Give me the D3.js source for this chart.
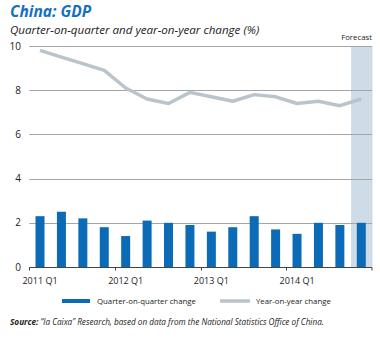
<!DOCTYPE html>
<html>
<head>
<meta charset="utf-8">
<script src="https://cdn.jsdelivr.net/npm/d3@7"></script>
<style>
  body { margin: 0; background: #fff; }
  text { font-family: "Open Sans", sans-serif; }
</style>
</head>
<body>
<svg id="chart" width="380" height="338"></svg>
<script>
/* DATA */
const quarters = ["2011 Q1", "2011 Q2", "2011 Q3", "2011 Q4",
                  "2012 Q1", "2012 Q2", "2012 Q3", "2012 Q4",
                  "2013 Q1", "2013 Q2", "2013 Q3", "2013 Q4",
                  "2014 Q1", "2014 Q2", "2014 Q3", "2014 Q4"];
const qoqChange = [2.3, 2.5, 2.2, 1.8, 1.4, 2.1, 2.0, 1.9, 1.6, 1.8, 2.3, 1.7, 1.5, 2.0, 1.9, 2.0];
const yoyChange = [9.8, 9.5, 9.2, 8.9, 8.1, 7.6, 7.4, 7.9, 7.7, 7.5, 7.8, 7.7, 7.4, 7.5, 7.3, 7.6];
const yTicks = [0, 2, 4, 6, 8, 10];
const xLabels = ["2011 Q1", "2012 Q1", "2013 Q1", "2014 Q1"];
const forecastQuarters = ["2014 Q4"];

const svg = d3.select("#chart");

const margin = { left: 29.3, right: 8, top: 46, bottom: 71 };
const width = 380, height = 338;

const x = d3.scaleBand()
  .domain(quarters)
  .range([margin.left, width - margin.right])
  .paddingInner(0.58)
  .paddingOuter(0.29);

const y = d3.scaleLinear()
  .domain([0, 10])
  .range([height - margin.bottom, margin.top]);

// step-based band edges (for shading & ticks)
const step = x.step();
const bandStart = d => x(d) + x.bandwidth() / 2 - step / 2;
const bandMid = d => x(d) + x.bandwidth() / 2;

// forecast shading
svg.selectAll("rect.forecast")
  .data(forecastQuarters)
  .join("rect")
  .attr("class", "forecast")
  .attr("x", d => bandStart(d) + 0.5)
  .attr("width", step)
  .attr("y", y(10))
  .attr("height", y(0) - y(10))
  .attr("fill", "#cddce7");

svg.append("text")
  .attr("x", width - margin.right)
  .attr("y", 40)
  .attr("text-anchor", "end")
  .attr("font-size", 7.8)
  .attr("fill", "#222")
  .text("Forecast");

// gridlines
svg.append("g")
  .selectAll("line")
  .data(yTicks.filter(d => d > 0))
  .join("line")
  .attr("x1", margin.left)
  .attr("x2", width - margin.right)
  .attr("y1", d => Math.round(y(d)) + 0.5)
  .attr("y2", d => Math.round(y(d)) + 0.5)
  .attr("stroke", "#a6a6a6")
  .attr("stroke-width", 1);

// y labels
svg.append("g")
  .selectAll("text")
  .data(yTicks)
  .join("text")
  .attr("x", 21)
  .attr("y", d => y(d))
  .attr("dy", "0.35em")
  .attr("text-anchor", "end")
  .attr("font-size", 10)
  .attr("fill", "#222")
  .text(d => d);

// bars
svg.append("g")
  .selectAll("rect")
  .data(quarters)
  .join("rect")
  .attr("x", d => x(d))
  .attr("width", x.bandwidth())
  .attr("y", (d, i) => y(qoqChange[i]))
  .attr("height", (d, i) => y(0) - y(qoqChange[i]))
  .attr("fill", "#0b6bb7");

// yoy line
const line = d3.line()
  .x((d, i) => bandMid(quarters[i]))
  .y(d => y(d));

svg.append("path")
  .datum(yoyChange)
  .attr("d", line)
  .attr("fill", "none")
  .attr("stroke", "#b9c5cb")
  .attr("stroke-width", 3.5)
  .attr("stroke-linejoin", "round");

// x axis
const axisY = Math.round(y(0)) + 0.5;
svg.append("line")
  .attr("x1", margin.left)
  .attr("x2", width - margin.right)
  .attr("y1", axisY)
  .attr("y2", axisY)
  .attr("stroke", "#444");

svg.append("g")
  .selectAll("line")
  .data(xLabels.concat(["end"]))
  .join("line")
  .attr("x1", d => d === "end" ? width - margin.right : Math.round(bandStart(d)) + 0.5)
  .attr("x2", d => d === "end" ? width - margin.right : Math.round(bandStart(d)) + 0.5)
  .attr("y1", axisY)
  .attr("y2", axisY + 3)
  .attr("stroke", "#444");

svg.append("g")
  .selectAll("text")
  .data(xLabels)
  .join("text")
  .attr("x", d => bandMid(d))
  .attr("y", 284)
  .attr("text-anchor", "middle")
  .attr("font-size", 9)
  .attr("fill", "#222")
  .text(d => d);

// titles
svg.append("text")
  .attr("x", 10)
  .attr("y", 17)
  .attr("font-size", 15.5)
  .attr("font-weight", "bold")
  .attr("font-style", "italic")
  .attr("fill", "#1670bd")
  .text("China: GDP");

svg.append("text")
  .attr("x", 10)
  .attr("y", 34)
  .attr("font-size", 11.6)
  .attr("font-style", "italic")
  .attr("fill", "#222")
  .text("Quarter-on-quarter and year-on-year change (%)");

// legend
const legend = svg.append("g");
legend.append("rect")
  .attr("x", 62).attr("y", 299)
  .attr("width", 28).attr("height", 4)
  .attr("fill", "#0b6bb7");
legend.append("text")
  .attr("x", 97).attr("y", 301)
  .attr("dy", "0.35em")
  .attr("font-size", 7.8)
  .attr("fill", "#222")
  .text("Quarter-on-quarter change");
legend.append("line")
  .attr("x1", 220).attr("x2", 250)
  .attr("y1", 301).attr("y2", 301)
  .attr("stroke", "#b9c5cb")
  .attr("stroke-width", 3.5);
legend.append("text")
  .attr("x", 256).attr("y", 301)
  .attr("dy", "0.35em")
  .attr("font-size", 7.8)
  .attr("fill", "#222")
  .text("Year-on-year change");

// source
const src = svg.append("text")
  .attr("x", 10)
  .attr("y", 325)
  .attr("font-size", 8.2)
  .attr("font-style", "italic")
  .attr("fill", "#222");
src.append("tspan").attr("font-weight", "bold").text("Source: ");
src.append("tspan").text("\u201Cla Caixa\u201D Research, based on data from the National Statistics Office of China.");
</script>
</body>
</html>
